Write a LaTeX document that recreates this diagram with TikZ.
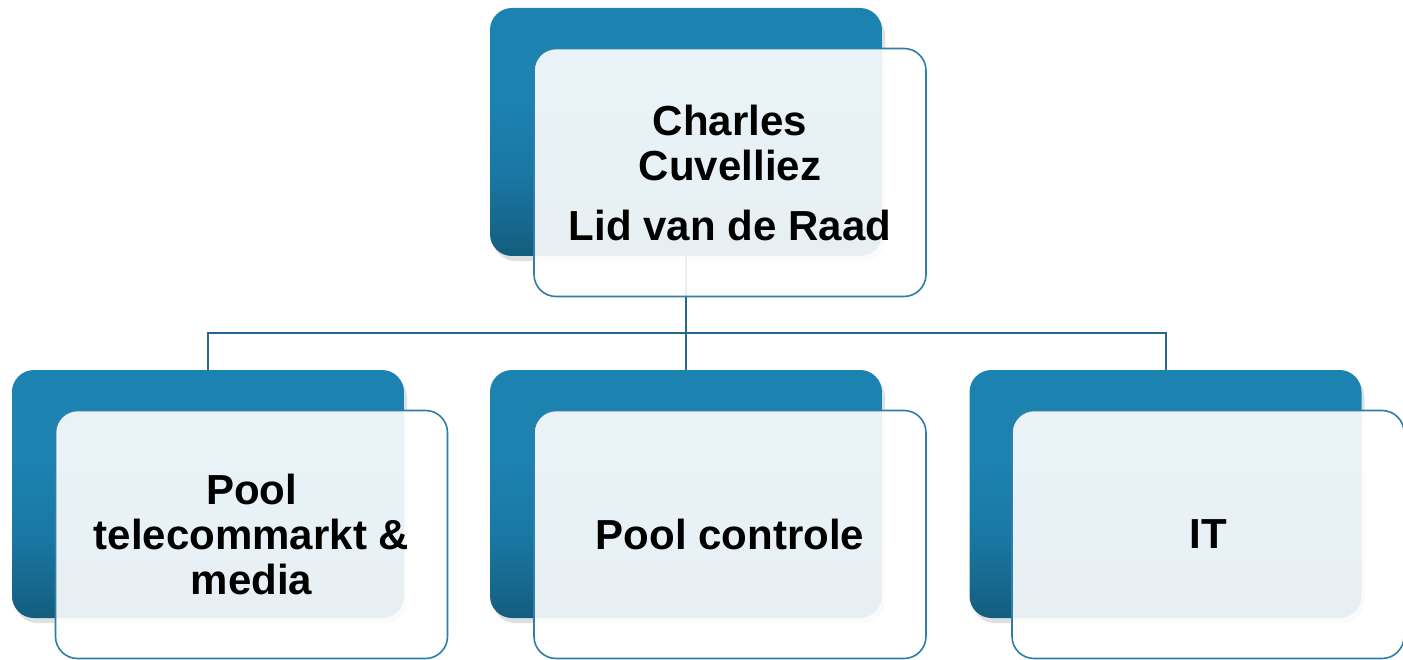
\documentclass[tikz,border=0pt]{standalone}
\usepackage{fontspec}
\setmainfont{Liberation Sans}
\usetikzlibrary{shadows}
\definecolor{bluetop}{HTML}{1C83B1}
\definecolor{bluemid}{HTML}{1A78A5}
\definecolor{bluebot}{HTML}{145D7E}
\definecolor{edgeblue}{HTML}{2E7EA5}
\definecolor{linkblue}{HTML}{23698F}
\pgfdeclareverticalshading{backshade}{100bp}{color(0bp)=(bluebot); color(25bp)=(bluebot); color(42bp)=(bluemid); color(58bp)=(bluetop); color(100bp)=(bluetop)}
\tikzset{
  backbox/.style={rectangle, rounded corners=22pt, minimum width=392pt, minimum height=248pt,
    shading=backshade, draw=none,
    drop shadow={shadow xshift=3pt, shadow yshift=-5pt, opacity=0.12, fill=black}},
  frontbox/.style={rectangle, rounded corners=22pt, minimum width=392pt, minimum height=248pt,
    fill=white, fill opacity=0.9, text opacity=1, draw=edgeblue, line width=1.6pt,
    align=center, font=\fontsize{42}{45}\selectfont\bfseries},
  link/.style={draw=linkblue, line width=2pt}
}
\begin{document}
\begin{tikzpicture}[x=1pt, y=-1pt]
\useasboundingbox (0,0) rectangle (1403,660);
% back boxes
\node[backbox] (b0) at (686,132) {};
\node[backbox] (b1) at (208,494) {};
\node[backbox] (b2) at (686,494) {};
\node[backbox] (b3) at (1165.5,494) {};
% connectors
\coordinate (j) at (686,333);
\draw[link] (b0.south) -- (j);
\draw[link] (j) -| (b1.north);
\draw[link] (j) -- (b2.north);
\draw[link] (j) -| (b3.north);
% front boxes
\node[frontbox] (f0) at (730,172.5) {Charles\\Cuvelliez\\[15pt]Lid van de Raad};
\node[frontbox] (f1) at (251.5,534.5) {Pool\\telecommarkt \&\\media};
\node[frontbox] (f2) at (730,534.5) {Pool controle};
\node[frontbox] (f3) at (1208,534.5) {IT};
\end{tikzpicture}
\end{document}
